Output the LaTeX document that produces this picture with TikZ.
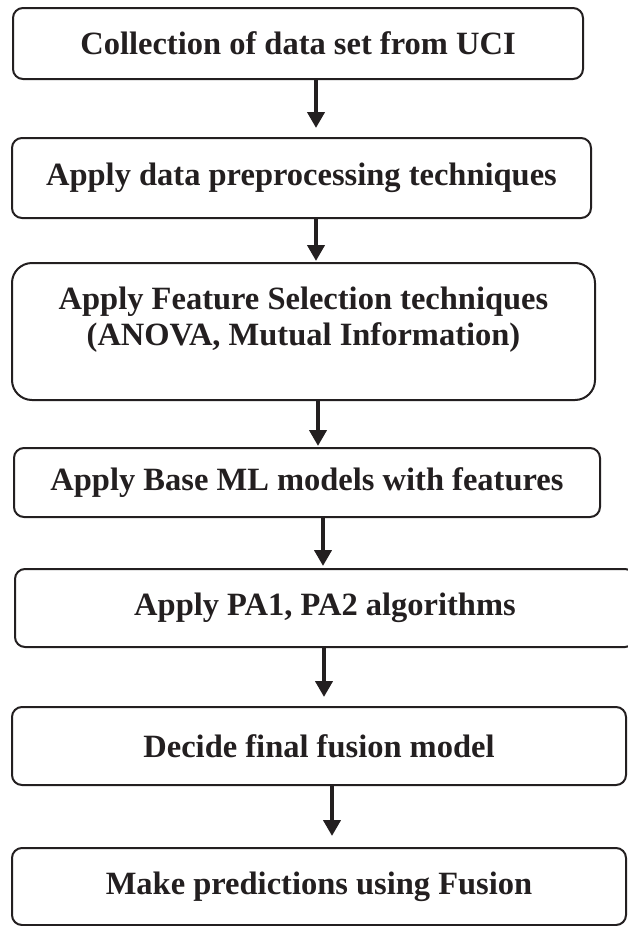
\documentclass[tikz,border=0pt]{standalone}
\usepackage{fontspec}
\setmainfont{Liberation Serif}
\usetikzlibrary{arrows.meta}
\definecolor{ink}{HTML}{231F20}
\tikzset{
  box/.style={draw=ink, line width=2pt, rounded corners=10pt, inner sep=0pt,
    font=\fontsize{32.5}{36}\selectfont\bfseries, text=ink, align=center},
  txt/.style={inner sep=0pt, font=\fontsize{32.5}{36}\selectfont\bfseries, text=ink, align=center},
  arr/.style={draw=ink, line width=4pt, -{Triangle[width=17pt,length=16pt]}},
}
\begin{document}
\begin{tikzpicture}[x=1pt,y=1pt]
\useasboundingbox (0,0) rectangle (627,-926);
\node[box, minimum width=570pt, minimum height=71pt] (b1) at (298,-43.5) {Collection of data set from UCI};
\node[box, minimum width=579pt, minimum height=80pt] (b2) at (301.5,-178) {Apply data preprocessing techniques};
\node[box, rounded corners=20pt, minimum width=583pt, minimum height=137pt] (b3) at (303.5,-331.5) {};
\node[txt] (t3) at ([yshift=12pt]b3.center) {Apply Feature Selection techniques\\(ANOVA, Mutual Information)};
\node[box, minimum width=586pt, minimum height=69pt] (b4) at (307,-482.5) {Apply Base ML models with features};
\node[box, minimum width=620pt, minimum height=78pt] (b5) at (325,-608) {Apply PA1, PA2 algorithms};
\node[box, minimum width=614pt, minimum height=78pt] (b6) at (319,-746) {Decide final fusion model};
\node[box, minimum width=614pt, minimum height=77pt] (b7) at (319,-886.5) {Make predictions using Fusion};
\coordinate (x1) at (316,0);
\coordinate (x2) at (316,0);
\coordinate (x3) at (318,0);
\coordinate (x4) at (323,0);
\coordinate (x5) at (324,0);
\coordinate (x6) at (332,0);
\draw[arr, shorten >=9pt] (b1.south -| x1) -- (b2.north -| x1);
\draw[arr, shorten >=1pt] (b2.south -| x2) -- (b3.north -| x2);
\draw[arr, shorten >=1pt] (b3.south -| x3) -- (b4.north -| x3);
\draw[arr, shorten >=2pt] (b4.south -| x4) -- (b5.north -| x4);
\draw[arr, shorten >=9pt] (b5.south -| x5) -- (b6.north -| x5);
\draw[arr, shorten >=11pt] (b6.south -| x6) -- (b7.north -| x6);
\end{tikzpicture}
\end{document}
